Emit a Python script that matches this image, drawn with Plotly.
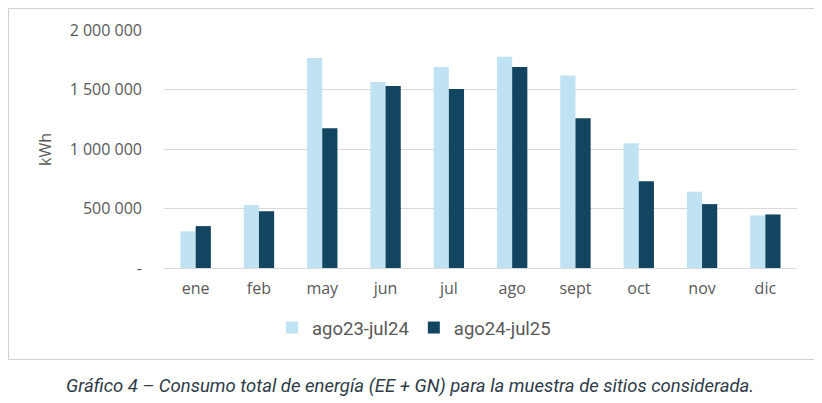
import plotly.graph_objects as go

months = ["ene", "feb", "may", "jun", "jul", "ago", "sept", "oct", "nov", "dic"]
serie_2324 = [308000, 529000, 1765000, 1564000, 1690000, 1776000, 1617000, 1049000, 641000, 442000]
serie_2425 = [352000, 476000, 1175000, 1530000, 1505000, 1690000, 1259000, 730000, 537000, 450000]
names = ["ago23-jul24", "ago24-jul25"]
tick_vals = [0, 500000, 1000000, 1500000, 2000000]
tick_text = ["-", "500 000", "1 000 000", "1 500 000", "2 000 000"]
caption = "Gráfico 4 – Consumo total de energía (EE + GN) para la muestra de sitios considerada."

light = "#C0E3F4"
dark = "#124560"
grey = "#595959"

fig = go.Figure()
fig.add_trace(go.Bar(x=months, y=serie_2324, name=names[0], marker=dict(color=light, line=dict(width=0))))
fig.add_trace(go.Bar(x=months, y=serie_2425, name=names[1], marker=dict(color=dark, line=dict(width=0))))

OFF = 8  # page body margin
W, H = 822 - OFF, 403 - OFF
L, R, T, B = 164, 797, 30, 268  # plot area in reference pixels
pw, ph = R - L, B - T
def px(x):
    return (x - L) / pw
def py(y):
    return (B - y) / ph

fig.update_layout(
    width=W, height=H,
    margin=dict(l=L - OFF, r=W - (R - OFF), t=T - OFF, b=H - (B - OFF)),
    paper_bgcolor="white", plot_bgcolor="white",
    barmode="group", bargap=0.52, bargroupgap=0,
    font=dict(family="Open Sans, sans-serif", color=grey, size=16),
    showlegend=True,
    legend=dict(orientation="h", x=px(414), xanchor="center", y=py(328), yanchor="middle",
                font=dict(family="Roboto, sans-serif", size=18.5, color=grey),
                itemwidth=30, tracegroupgap=0, itemclick=False),
    xaxis=dict(showgrid=False, showline=True, linecolor="#D9D9D9", linewidth=1,
               ticks="", tickfont=dict(size=16, color=grey), ticklabelstandoff=6),
    yaxis=dict(range=[0, 2000000], tickvals=tick_vals, ticktext=tick_text,
               showgrid=True, gridcolor="#D9D9D9", gridwidth=1, zeroline=False,
               showline=False, ticks="", tickfont=dict(size=16, color=grey),
               ticklabelstandoff=21),
    shapes=[dict(type="rect", xref="paper", yref="paper",
                 x0=px(8.5), x1=px(816.5), y0=py(359.5), y1=py(8.5),
                 line=dict(color="#D0D0D0", width=1), fillcolor="rgba(0,0,0,0)", layer="below")],
    annotations=[
        dict(text="kWh", xref="paper", yref="paper", x=px(45), y=py(150), textangle=-90,
             showarrow=False, font=dict(size=16, color=grey), xanchor="center", yanchor="middle"),
        dict(text="<i>" + caption + "</i>", xref="paper", yref="paper", x=px(410), y=py(386),
             showarrow=False, font=dict(family="Roboto, sans-serif", size=18.5, color="#2E3B47"),
             xanchor="center", yanchor="middle"),
    ],
)

fig.write_html("out.html")
